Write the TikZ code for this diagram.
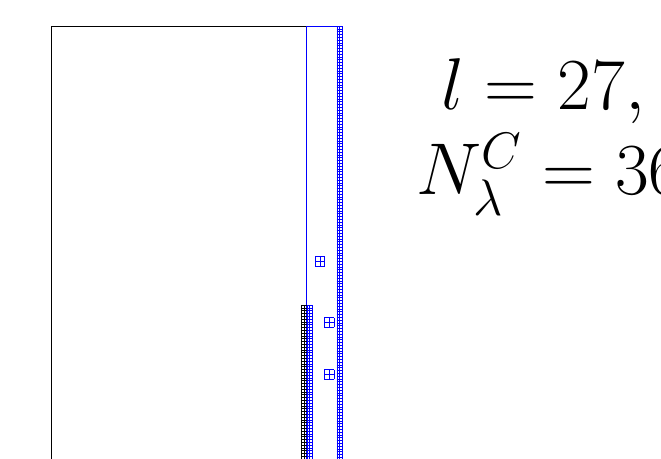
\RequirePackage{fix-cm}
\documentclass[tikz,border=0pt]{standalone}
\usepackage{amsmath,amssymb}
\usepackage{tikz}
\usetikzlibrary{positioning}

\begin{document}
\begin{tikzpicture}[x=0.75pt,y=0.75pt,
    fine/.style={line width=0.4pt},
    bluegrid/.style={blue,line width=0.3pt},
    blackgrid/.style={black,line width=0.3pt},
    bigmath/.style={inner sep=0pt,anchor=base west,font=\fontsize{55}{66}\selectfont}]
  \useasboundingbox (0,0) rectangle (661,458);
  % coarse cell
  \draw[fine] (51,-10) -- (51,432) -- (306.7,432);
  % refined strip
  \draw[blue,fine] (306.7,-10) -- (306.7,432) -- (342.3,432) -- (342.3,-10);
  \draw[bluegrid,step=2.8,shift={(336.7,432)}] (0,-445) grid (5.65,0);
  % cells along the lower left edge of the strip
  \draw[blackgrid,step=2.8,shift={(301.1,153)}] (0,-165) grid (5.65,0);
  \draw[bluegrid,step=2.8,shift={(306.7,153)}] (0,-165) grid (5.65,0);
  % isolated small cells
  \draw[bluegrid,step=4.7,shift={(315,192)}] (0,0) grid (9.5,9.5);
  \draw[bluegrid,step=4.7,shift={(324.3,131)}] (0,0) grid (9.5,9.5);
  \draw[bluegrid,step=4.7,shift={(324.3,79)}] (0,0) grid (9.5,9.5);
  % labels
  \node[bigmath] (lvl) at (441,348) {$l=27,$};
  \node[bigmath] (ncell) at (416,263) {$N_\lambda^C=36$};
\end{tikzpicture}
\end{document}
